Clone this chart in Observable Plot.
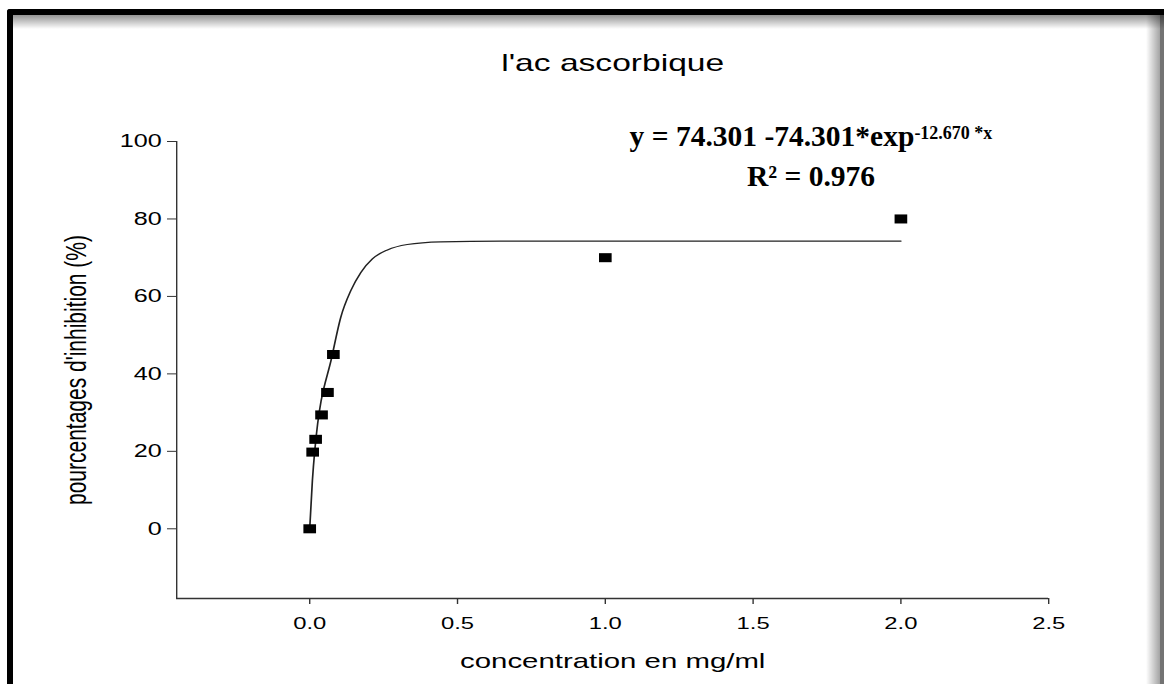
<!DOCTYPE html>
<html>
<head>
<meta charset="utf-8">
<script src="https://cdn.jsdelivr.net/npm/d3@7"></script>
<script src="https://cdn.jsdelivr.net/npm/@observablehq/plot@0.6"></script>
<style>
  html, body { margin: 0; padding: 0; background: #fff; }
  #wrap { position: relative; width: 1164px; height: 684px; overflow: hidden; background: #fff; }
  #chart svg { width: 1164px !important; height: 684px !important; max-width: none !important; display: block; }
  .frame { position: absolute; left: 7px; top: 9px; right: -20px; bottom: -20px;
           border-left: 6px solid #000; border-top: 6px solid #000; border-top-left-radius: 3px; pointer-events: none; }
  .shadeTop { position: absolute; left: 13px; top: 15px; right: 0; height: 14px; pointer-events: none;
              background: linear-gradient(to bottom, rgba(0,0,0,0.42), rgba(0,0,0,0)); }
  .shadeRight { position: absolute; top: 15px; right: 0; width: 18px; bottom: 0; pointer-events: none;
                background: linear-gradient(to right, rgba(0,0,0,0), rgba(0,0,0,0.35) 75%, rgba(0,0,0,0.55) 76%, rgba(0,0,0,0.55)); }
  .eq { position: absolute; left: 611px; width: 400px; top: 116px; text-align: center;
        font-family: "Liberation Serif", "Times New Roman", serif; font-weight: bold; font-size: 29.5px;
        line-height: 40px; color: #000; }
  .eq sup { font-size: 18px; vertical-align: 7px; line-height: 0; }
</style>
</head>
<body>
<div id="wrap">
  <div id="chart"></div>
  <div class="eq">
    <div>y = 74.301 -74.301*exp<sup>-12.670 *x</sup></div>
    <div>R² = 0.976</div>
  </div>
  <div class="shadeTop"></div>
  <div class="shadeRight"></div>
  <div class="frame"></div>
</div>
<script>
// ---- data ----
const concentration = [0, 0.01, 0.02, 0.04, 0.06, 0.08, 1, 2];
const inhibition    = [0, 19.8, 23.1, 29.4, 35.2, 45.0, 70.0, 80.0];

// fitted curve, points
const fitX = [0, 0.009, 0.017, 0.077, 0.105, 0.139, 0.173, 0.212, 0.263, 0.33, 0.443, 0.646, 1.0, 1.5, 2.0];
const fitY = [0, 12.4, 20.1, 45.1, 54.6, 61.5, 66.2, 69.7, 72.0, 73.4, 74.1, 74.3, 74.3, 74.3, 74.3];

const xTicks = [0, 0.5, 1.0, 1.5, 2.0, 2.5];
const yTicks = [0, 20, 40, 60, 80, 100];
const xDomain = [-0.45, 2.5];
const yDomain = [-18, 100];

const titleText = "l'ac ascorbique";
const xLabel = "concentration en mg/ml";
const yLabel = "pourcentages d'inhibition (%)";

// ---- build ----
const points = concentration.map((c, i) => ({c, p: inhibition[i]}));
const fit = fitX.map((x, i) => ({x, y: fitY[i]}));

const S = 1.4;              // horizontal stretch of the original picture
const W = 1164 / S;

const chart = Plot.plot({
  width: W,
  height: 684,
  marginLeft: 176 / S,
  marginRight: 116 / S,
  marginTop: 141,
  marginBottom: 86,
  x: {domain: xDomain},
  y: {domain: yDomain},
  style: {fontFamily: "'Liberation Sans', Arial, sans-serif", color: "#000", background: "#fff"},
  marks: [
    Plot.ruleX([xDomain[0]], {stroke: "#333", strokeWidth: 1}),
    Plot.ruleY([yDomain[0]], {stroke: "#333", strokeWidth: 1.3}),
    Plot.axisX(xTicks, {tickSize: 6, tickPadding: 12, tickFormat: d3.format(".1f"), label: null, fontSize: 17, color: "#000", stroke: "#333"}),
    Plot.axisY(yTicks, {tickSize: 9 / S, tickPadding: 6 / S, label: null, fontSize: 18, color: "#000", stroke: "#333"}),
    Plot.line(fit, {x: "x", y: "y", curve: "monotone-x", stroke: "#222", strokeWidth: 1.2}),
    Plot.dot(points, {x: "c", y: "p", symbol: "square", r: 5.1, fill: "#000", stroke: null}),
    Plot.text([titleText], {text: d => d, frameAnchor: "top", dy: -88, fontSize: 24, fill: "#000"}),
    Plot.text([xLabel], {text: d => d, frameAnchor: "bottom", dy: 69, fontSize: 21, fill: "#000"}),
    Plot.text([yLabel], {text: d => d, frameAnchor: "left", textAnchor: "middle", rotate: -90, dx: -100 / S, fontSize: 21, fill: "#000"})
  ]
});
chart.setAttribute("preserveAspectRatio", "none");
document.getElementById("chart").appendChild(chart);
</script>
</body>
</html>
